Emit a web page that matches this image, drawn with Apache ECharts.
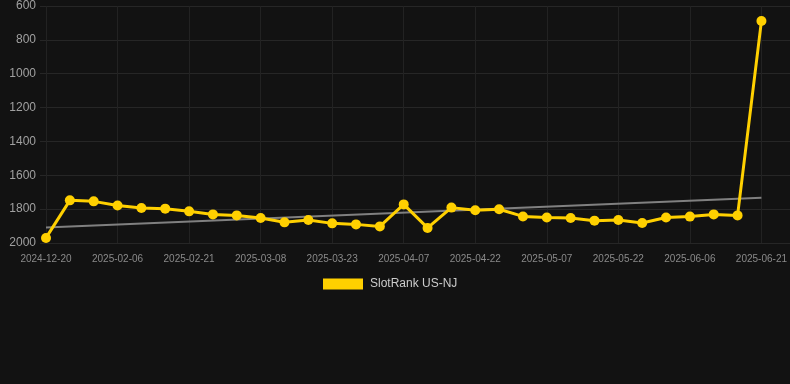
<!DOCTYPE html>
<html>
<head>
<meta charset="utf-8">
<script src="https://cdn.jsdelivr.net/npm/echarts@6/dist/echarts.min.js"></script>
<style>
html,body{margin:0;padding:0;background:#121212;}
#c{width:790px;height:384px;}
</style>
</head>
<body>
<div id="c"></div>
<script>
var categories = ['2024-12-20','2025-01-27','2025-02-01','2025-02-06','2025-02-11','2025-02-16','2025-02-21','2025-02-26','2025-03-03','2025-03-08','2025-03-13','2025-03-18','2025-03-23','2025-03-28','2025-04-02','2025-04-07','2025-04-12','2025-04-17','2025-04-22','2025-04-27','2025-05-02','2025-05-07','2025-05-12','2025-05-17','2025-05-22','2025-05-27','2025-06-01','2025-06-06','2025-06-11','2025-06-16','2025-06-21'];
var rankValues = [1970,1748,1754,1778,1793,1797,1813,1831,1837,1852,1878,1864,1884,1890,1902,1772,1911,1791,1807,1801,1843,1849,1852,1868,1864,1882,1849,1844,1831,1837,689];
var trendStart = 1908;
var trendEnd = 1732;
var yTicks = [600,800,1000,1200,1400,1600,1800,2000];
var seriesName = 'SlotRank US-NJ';

var trendData = categories.map(function(c, i){
  if (i === 0) return trendStart;
  if (i === categories.length - 1) return trendEnd;
  return null;
});

var chart = echarts.init(document.getElementById('c'), null, {renderer:'canvas'});
var yMin = yTicks[0], yMax = yTicks[yTicks.length-1], yStep = yTicks[1]-yTicks[0];
chart.setOption({
  backgroundColor:'#121212',
  animation:false,
  legend:{
    top:273, left:318,
    itemWidth:40, itemHeight:11, itemGap:10,
    icon:'rect',
    data:[seriesName],
    textStyle:{color:'#cccccc', fontSize:12, fontFamily:'Arial, Liberation Sans, sans-serif', padding:[0,0,0,2]}
  },
  grid:[
    {left:40, right:0, top:6, bottom:141},
    {left:46, right:28, top:6, bottom:141}
  ],
  xAxis:[
    {gridIndex:0, type:'value', min:0, max:1, show:false},
    {gridIndex:1, type:'category', data:categories, boundaryGap:false,
     axisLine:{show:false}, axisTick:{show:false},
     axisLabel:{interval:2, color:'#8a8a8a', fontSize:10, margin:11, fontFamily:'Arial, Liberation Sans, sans-serif'},
     splitLine:{show:true, interval:2, lineStyle:{color:'#222222', width:1}}
    }
  ],
  yAxis:[
    {gridIndex:0, type:'value', inverse:true, min:yMin, max:yMax, interval:yStep,
     axisLine:{show:false}, axisTick:{show:false},
     axisLabel:{color:'#a0a0a0', fontSize:12, margin:4, fontFamily:'Arial, Liberation Sans, sans-serif',
       formatter:function(v){ return String(v); }},
     splitLine:{lineStyle:{color:'#262626', width:1}}
    },
    {gridIndex:1, type:'value', inverse:true, min:yMin, max:yMax, interval:yStep, show:false,
     splitLine:{show:false}}
  ],
  series:[
    {name:'trend', type:'line', xAxisIndex:1, yAxisIndex:1, data:trendData, connectNulls:true,
     symbol:'none', lineStyle:{color:'#808080', width:2}, z:1, silent:true},
    {name:seriesName, type:'line', xAxisIndex:1, yAxisIndex:1, data:rankValues,
     symbol:'circle', symbolSize:10, itemStyle:{color:'#FFD000'},
     lineStyle:{color:'#FFD000', width:3}, z:3}
  ]
});
</script>
</body>
</html>
